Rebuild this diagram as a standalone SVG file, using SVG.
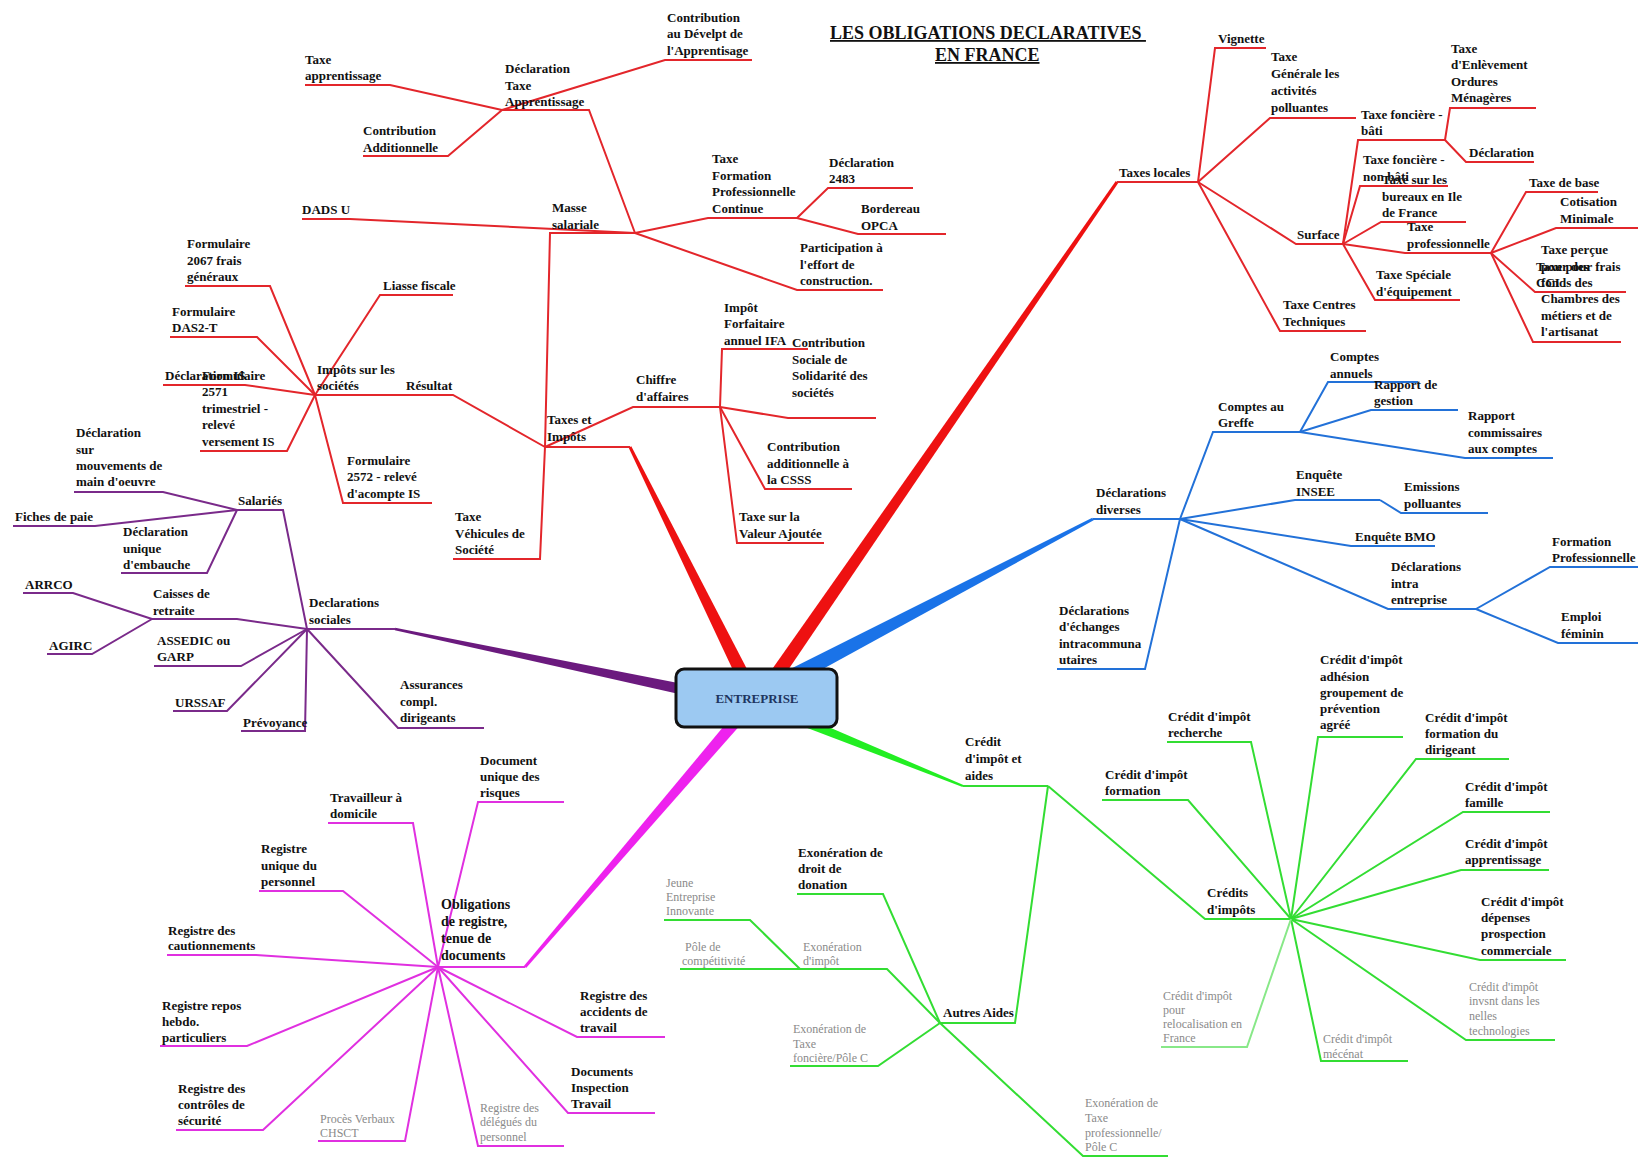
<svg xmlns="http://www.w3.org/2000/svg" width="1638" height="1158" viewBox="0 0 1638 1158">
<style>
.r{fill:none;stroke:#e3262b;stroke-width:2}
.b{fill:none;stroke:#2271d8;stroke-width:2}
.g{fill:none;stroke:#33dd33;stroke-width:2}
.gl{fill:none;stroke:#88e888;stroke-width:2}
.m{fill:none;stroke:#e030e0;stroke-width:2}
.p{fill:none;stroke:#7a2a8a;stroke-width:2}
text{font-family:"Liberation Serif","Times New Roman",serif}
.t{font-size:13px;font-weight:bold;fill:#111111}
.t14{font-size:14px;font-weight:bold;fill:#111111}
.gt{font-size:12px;fill:#8a8a8a}
.ti{font-size:18px;font-weight:bold;fill:#111111;text-decoration:underline}
</style>
<rect width="1638" height="1158" fill="#ffffff"/>
<g id="title">
<text class="ti" x="830" y="39" xml:space="preserve">LES OBLIGATIONS DECLARATIVES </text>
<text class="ti" x="935" y="61">EN FRANCE</text>
</g>
<g id="connectors">
<polygon points="631.3,446.3 628.7,447.7 743.7,693.1 756.3,686.9" fill="#ee1111"/>
<polygon points="1118.2,182.9 1115.8,181.1 760.2,686 771.8,694" fill="#ee1111"/>
<polygon points="1093.7,520.3 1092.3,517.7 786.3,670.9 793.7,685.1" fill="#1a73e8"/>
<polygon points="962.6,786.9 963.4,785.1 801.9,715.4 798.1,724.6" fill="#22ee22"/>
<polygon points="526.1,968 523.9,966 736.4,711.1 745.6,718.9" fill="#ee22ee"/>
<polygon points="394.8,630.2 395.2,627.8 701.1,687.6 698.9,698.4" fill="#6b1a7e"/>
<g id="red-links">
<polyline class="r" points="630,447 545,447"/>
<polyline class="r" points="545,447 453,395 315,395"/>
<polyline class="r" points="545,447 633,407 720,407"/>
<polyline class="r" points="545,447 550,233 635,233"/>
<polyline class="r" points="545,447 540,559 453,559"/>
<polyline class="r" points="635,233 350,219 302,219"/>
<polyline class="r" points="635,233 589,110 502,110"/>
<polyline class="r" points="635,233 708,218 797,218"/>
<polyline class="r" points="635,233 797,290 883,290"/>
<polyline class="r" points="502,110 390,85 305,85"/>
<polyline class="r" points="502,110 448,156 363,156"/>
<polyline class="r" points="502,110 665,60 752,60"/>
<polyline class="r" points="797,218 828,188 913,188"/>
<polyline class="r" points="797,218 858,234 946,234"/>
<polyline class="r" points="720,407 722,349 808,349"/>
<polyline class="r" points="720,407 788,418 876,418"/>
<polyline class="r" points="720,407 765,489 852,489"/>
<polyline class="r" points="720,407 737,543 824,543"/>
<polyline class="r" points="315,395 380,295 453,295"/>
<polyline class="r" points="315,395 270,286 185,286"/>
<polyline class="r" points="315,395 257,337 170,337"/>
<polyline class="r" points="315,395 245,385 163,385"/>
<polyline class="r" points="315,395 287,451 200,451"/>
<polyline class="r" points="315,395 343,503 432,503"/>
<polyline class="r" points="1117,182 1198,182"/>
<polyline class="r" points="1198,182 1215,48 1266,48"/>
<polyline class="r" points="1198,182 1270,118 1356,118"/>
<polyline class="r" points="1198,182 1296,244 1343,244"/>
<polyline class="r" points="1198,182 1280,331 1366,331"/>
<polyline class="r" points="1343,244 1358,140 1445,140"/>
<polyline class="r" points="1343,244 1360,186 1448,186"/>
<polyline class="r" points="1343,244 1381,222 1466,222"/>
<polyline class="r" points="1343,244 1405,253 1491,253"/>
<polyline class="r" points="1343,244 1375,300 1460,300"/>
<polyline class="r" points="1445,140 1450,108 1536,108"/>
<polyline class="r" points="1445,140 1466,162 1534,162"/>
<polyline class="r" points="1491,253 1526,192 1598,192"/>
<polyline class="r" points="1491,253 1556,228 1638,228"/>
<polyline class="r" points="1491,253 1535,292 1626,292"/>
<polyline class="r" points="1491,253 1533,342 1621,342"/>
</g>
<g id="blue-links">
<polyline class="b" points="1093,519 1180,519"/>
<polyline class="b" points="1180,519 1213,432 1300,432"/>
<polyline class="b" points="1300,432 1328,382 1418,382"/>
<polyline class="b" points="1300,432 1371,410 1458,410"/>
<polyline class="b" points="1300,432 1465,458 1553,458"/>
<polyline class="b" points="1180,519 1295,500 1380,500"/>
<polyline class="b" points="1380,500 1401,513 1488,513"/>
<polyline class="b" points="1180,519 1351,546 1435,546"/>
<polyline class="b" points="1180,519 1388,609 1476,609"/>
<polyline class="b" points="1476,609 1550,567 1638,567"/>
<polyline class="b" points="1476,609 1558,643 1638,643"/>
<polyline class="b" points="1180,519 1145,669 1057,669"/>
</g>
<g id="green-links">
<polyline class="g" points="963,786 1048,786"/>
<polyline class="g" points="1048,786 1015,1023 940,1023"/>
<polyline class="g" points="1048,786 1205,919 1291,919"/>
<polyline class="g" points="940,1023 883,894 797,894"/>
<polyline class="g" points="940,1023 887,969 800,969"/>
<polyline class="g" points="800,969 750,920 664,920"/>
<polyline class="g" points="800,969 680,969"/>
<polyline class="g" points="940,1023 878,1066 790,1066"/>
<polyline class="g" points="940,1023 1083,1156 1168,1156"/>
<polyline class="g" points="1291,919 1251,742 1167,742"/>
<polyline class="g" points="1291,919 1188,800 1102,800"/>
<polyline class="g" points="1291,919 1318,737 1403,737"/>
<polyline class="g" points="1291,919 1416,759 1509,759"/>
<polyline class="g" points="1291,919 1463,812 1550,812"/>
<polyline class="g" points="1291,919 1461,870 1549,870"/>
<polyline class="g" points="1291,919 1480,960 1566,960"/>
<polyline class="g" points="1291,919 1466,1040 1555,1040"/>
<polyline class="g" points="1291,919 1321,1061 1408,1061"/>
<polyline class="gl" points="1291,919 1247,1047 1161,1047"/>
</g>
<g id="magenta-links">
<polyline class="m" points="525,967 438,967"/>
<polyline class="m" points="438,967 478,802 564,802"/>
<polyline class="m" points="438,967 413,823 328,823"/>
<polyline class="m" points="438,967 343,891 259,891"/>
<polyline class="m" points="438,967 256,955 167,955"/>
<polyline class="m" points="438,967 247,1046 160,1046"/>
<polyline class="m" points="438,967 263,1130 176,1130"/>
<polyline class="m" points="438,967 405,1141 318,1141"/>
<polyline class="m" points="438,967 478,1146 564,1146"/>
<polyline class="m" points="438,967 568,1113 655,1113"/>
<polyline class="m" points="438,967 577,1037 665,1037"/>
</g>
<g id="purple-links">
<polyline class="p" points="395,629 307,629"/>
<polyline class="p" points="307,629 283,510 237,510"/>
<polyline class="p" points="307,629 237,619 152,619"/>
<polyline class="p" points="307,629 241,666 154,666"/>
<polyline class="p" points="307,629 227,711 173,711"/>
<polyline class="p" points="307,629 305,731 241,731"/>
<polyline class="p" points="307,629 398,728 484,728"/>
<polyline class="p" points="237,510 163,492 74,492"/>
<polyline class="p" points="237,510 95,526 13,526"/>
<polyline class="p" points="237,510 207,573 121,573"/>
<polyline class="p" points="152,619 73,593 23,593"/>
<polyline class="p" points="152,619 92,654 47,654"/>
</g>
</g>
<g id="entreprise">
<rect x="676" y="669" width="161" height="58" rx="8" fill="#9cc9f2" stroke="#111" stroke-width="3"/>
<text x="757" y="703" text-anchor="middle" style="font-size:13px;font-weight:bold;fill:#1e3560">ENTREPRISE</text>
</g>
<g id="taxes-impots"><text class="t"><tspan x="547" y="424">Taxes et</tspan><tspan x="547" y="441">Impôts</tspan></text></g>
<g id="resultat"><text class="t" x="406" y="390">Résultat</text></g>
<g id="chiffre-affaires"><text class="t"><tspan x="636" y="384">Chiffre</tspan><tspan x="636" y="401">d'affaires</tspan></text></g>
<g id="masse-salariale"><text class="t"><tspan x="552" y="212">Masse</tspan><tspan x="552" y="229">salariale</tspan></text></g>
<g id="tvs"><text class="t"><tspan x="455" y="521">Taxe</tspan><tspan x="455" y="538">Véhicules de</tspan><tspan x="455" y="554">Société</tspan></text></g>
<g id="dads"><text class="t" x="302" y="214">DADS U</text></g>
<g id="decl-ta"><text class="t"><tspan x="505" y="73">Déclaration</tspan><tspan x="505" y="90">Taxe</tspan><tspan x="505" y="106">Apprentissage</tspan></text></g>
<g id="tfpc"><text class="t"><tspan x="712" y="163">Taxe</tspan><tspan x="712" y="180">Formation</tspan><tspan x="712" y="196">Professionnelle</tspan><tspan x="712" y="213">Continue</tspan></text></g>
<g id="participation"><text class="t"><tspan x="800" y="252">Participation à</tspan><tspan x="800" y="269">l'effort de</tspan><tspan x="800" y="285">construction.</tspan></text></g>
<g id="taxe-app"><text class="t"><tspan x="305" y="64">Taxe</tspan><tspan x="305" y="80">apprentissage</tspan></text></g>
<g id="contrib-add"><text class="t"><tspan x="363" y="135">Contribution</tspan><tspan x="363" y="152">Additionnelle</tspan></text></g>
<g id="cda"><text class="t"><tspan x="667" y="22">Contribution</tspan><tspan x="667" y="38">au Dévelpt de</tspan><tspan x="667" y="55">l'Apprentisage</tspan></text></g>
<g id="decl-2483"><text class="t"><tspan x="829" y="167">Déclaration</tspan><tspan x="829" y="183">2483</tspan></text></g>
<g id="opca"><text class="t"><tspan x="861" y="213">Bordereau</tspan><tspan x="861" y="230">OPCA</tspan></text></g>
<g id="ifa"><text class="t"><tspan x="724" y="312">Impôt</tspan><tspan x="724" y="328">Forfaitaire</tspan><tspan x="724" y="345">annuel IFA</tspan></text></g>
<g id="css"><text class="t"><tspan x="792" y="347">Contribution</tspan><tspan x="792" y="364">Sociale de</tspan><tspan x="792" y="380">Solidarité des</tspan><tspan x="792" y="397">sociétés</tspan></text></g>
<g id="csss"><text class="t"><tspan x="767" y="451">Contribution</tspan><tspan x="767" y="468">additionnelle à</tspan><tspan x="767" y="484">la CSSS</tspan></text></g>
<g id="tva"><text class="t"><tspan x="739" y="521">Taxe sur la</tspan><tspan x="739" y="538">Valeur Ajoutée</tspan></text></g>
<g id="is"><text class="t"><tspan x="317" y="374">Impôts sur les</tspan><tspan x="317" y="390">sociétés</tspan></text></g>
<g id="liasse"><text class="t" x="383" y="290">Liasse fiscale</text></g>
<g id="f2067"><text class="t"><tspan x="187" y="248">Formulaire</tspan><tspan x="187" y="265">2067 frais</tspan><tspan x="187" y="281">généraux</tspan></text></g>
<g id="das2"><text class="t"><tspan x="172" y="316">Formulaire</tspan><tspan x="172" y="332">DAS2-T</tspan></text></g>
<g id="decl-is"><text class="t" x="165" y="380">Déclaration IS</text></g>
<g id="f2571"><text class="t"><tspan x="202" y="380">Formulaire</tspan><tspan x="202" y="396">2571</tspan><tspan x="202" y="413">trimestriel -</tspan><tspan x="202" y="429">relevé</tspan><tspan x="202" y="446">versement IS</tspan></text></g>
<g id="f2572"><text class="t"><tspan x="347" y="465">Formulaire</tspan><tspan x="347" y="481">2572 - relevé</tspan><tspan x="347" y="498">d'acompte IS</tspan></text></g>
<g id="taxes-locales"><text class="t" x="1119" y="177">Taxes locales</text></g>
<g id="vignette"><text class="t" x="1218" y="43">Vignette</text></g>
<g id="tgap"><text class="t"><tspan x="1271" y="61">Taxe</tspan><tspan x="1271" y="78">Générale les</tspan><tspan x="1271" y="95">activités</tspan><tspan x="1271" y="112">polluantes</tspan></text></g>
<g id="surface"><text class="t" x="1297" y="239">Surface</text></g>
<g id="tct"><text class="t"><tspan x="1283" y="309">Taxe Centres</tspan><tspan x="1283" y="326">Techniques</tspan></text></g>
<g id="tfb"><text class="t"><tspan x="1361" y="119">Taxe foncière -</tspan><tspan x="1361" y="135">bâti</tspan></text></g>
<g id="tfnb"><text class="t"><tspan x="1363" y="164">Taxe foncière -</tspan><tspan x="1363" y="181">non bâti</tspan></text></g>
<g id="tsb"><text class="t"><tspan x="1382" y="184">Taxe sur les</tspan><tspan x="1382" y="201">bureaux en Ile</tspan><tspan x="1382" y="217">de France</tspan></text></g>
<g id="tp"><text class="t"><tspan x="1407" y="231">Taxe</tspan><tspan x="1407" y="248">professionnelle</tspan></text></g>
<g id="tse"><text class="t"><tspan x="1376" y="279">Taxe Spéciale</tspan><tspan x="1376" y="296">d'équipement</tspan></text></g>
<g id="teom"><text class="t"><tspan x="1451" y="53">Taxe</tspan><tspan x="1451" y="69">d'Enlèvement</tspan><tspan x="1451" y="86">Ordures</tspan><tspan x="1451" y="102">Ménagères</tspan></text></g>
<g id="decl-tf"><text class="t" x="1469" y="157">Déclaration</text></g>
<g id="taxe-base"><text class="t" x="1529" y="187">Taxe de base</text></g>
<g id="cotisation"><text class="t"><tspan x="1560" y="206">Cotisation</tspan><tspan x="1560" y="223">Minimale</tspan></text></g>
<g id="cci"><text class="t"><tspan x="1536" y="271">Taxe pour frais</tspan><tspan x="1536" y="287">CCI</tspan></text></g>
<g id="chambres"><text class="t"><tspan x="1541" y="254">Taxe perçue</tspan><tspan x="1541" y="271">pour des</tspan><tspan x="1541" y="287">fonds des</tspan><tspan x="1541" y="303">Chambres des</tspan><tspan x="1541" y="320">métiers et de</tspan><tspan x="1541" y="336">l'artisanat</tspan></text></g>
<g id="decl-diverses"><text class="t"><tspan x="1096" y="497">Déclarations</tspan><tspan x="1096" y="514">diverses</tspan></text></g>
<g id="comptes-greffe"><text class="t"><tspan x="1218" y="411">Comptes au</tspan><tspan x="1218" y="427">Greffe</tspan></text></g>
<g id="comptes-annuels"><text class="t"><tspan x="1330" y="361">Comptes</tspan><tspan x="1330" y="378">annuels</tspan></text></g>
<g id="rapport-gestion"><text class="t"><tspan x="1374" y="389">Rapport de</tspan><tspan x="1374" y="405">gestion</tspan></text></g>
<g id="rapport-cac"><text class="t"><tspan x="1468" y="420">Rapport</tspan><tspan x="1468" y="437">commissaires</tspan><tspan x="1468" y="453">aux comptes</tspan></text></g>
<g id="insee"><text class="t"><tspan x="1296" y="479">Enquête</tspan><tspan x="1296" y="496">INSEE</tspan></text></g>
<g id="emissions"><text class="t"><tspan x="1404" y="491">Emissions</tspan><tspan x="1404" y="508">polluantes</tspan></text></g>
<g id="bmo"><text class="t" x="1355" y="541">Enquête BMO</text></g>
<g id="intra"><text class="t"><tspan x="1391" y="571">Déclarations</tspan><tspan x="1391" y="588">intra</tspan><tspan x="1391" y="604">entreprise</tspan></text></g>
<g id="formation-pro"><text class="t"><tspan x="1552" y="546">Formation</tspan><tspan x="1552" y="562">Professionnelle</tspan></text></g>
<g id="emploi"><text class="t"><tspan x="1561" y="621">Emploi</tspan><tspan x="1561" y="638">féminin</tspan></text></g>
<g id="deb"><text class="t"><tspan x="1059" y="615">Déclarations</tspan><tspan x="1059" y="631">d'échanges</tspan><tspan x="1059" y="648">intracommuna</tspan><tspan x="1059" y="664">utaires</tspan></text></g>
<g id="credit-aides"><text class="t"><tspan x="965" y="746">Crédit</tspan><tspan x="965" y="763">d'impôt et</tspan><tspan x="965" y="780">aides</tspan></text></g>
<g id="autres-aides"><text class="t" x="943" y="1017">Autres Aides</text></g>
<g id="credits-impots"><text class="t"><tspan x="1207" y="897">Crédits</tspan><tspan x="1207" y="914">d'impôts</tspan></text></g>
<g id="exo-donation"><text class="t"><tspan x="798" y="857">Exonération de</tspan><tspan x="798" y="873">droit de</tspan><tspan x="798" y="889">donation</tspan></text></g>
<g id="exo-impot"><text class="gt"><tspan x="803" y="951">Exonération</tspan><tspan x="803" y="965">d'impôt</tspan></text></g>
<g id="jei"><text class="gt"><tspan x="666" y="887">Jeune</tspan><tspan x="666" y="901">Entreprise</tspan><tspan x="666" y="915">Innovante</tspan></text></g>
<g id="pole"><text class="gt"><tspan x="685" y="951">Pôle de</tspan><tspan x="682" y="965">compétitivité</tspan></text></g>
<g id="exo-tf"><text class="gt"><tspan x="793" y="1033">Exonération de</tspan><tspan x="793" y="1048">Taxe</tspan><tspan x="793" y="1062">foncière/Pôle C</tspan></text></g>
<g id="exo-tp"><text class="gt"><tspan x="1085" y="1107">Exonération de</tspan><tspan x="1085" y="1122">Taxe</tspan><tspan x="1085" y="1137">professionnelle/</tspan><tspan x="1085" y="1151">Pôle C</tspan></text></g>
<g id="ci-recherche"><text class="t"><tspan x="1168" y="721">Crédit d'impôt</tspan><tspan x="1168" y="737">recherche</tspan></text></g>
<g id="ci-formation"><text class="t"><tspan x="1105" y="779">Crédit d'impôt</tspan><tspan x="1105" y="795">formation</tspan></text></g>
<g id="ci-adhesion"><text class="t"><tspan x="1320" y="664">Crédit d'impôt</tspan><tspan x="1320" y="681">adhésion</tspan><tspan x="1320" y="697">groupement de</tspan><tspan x="1320" y="713">prévention</tspan><tspan x="1320" y="729">agréé</tspan></text></g>
<g id="ci-dirigeant"><text class="t"><tspan x="1425" y="722">Crédit d'impôt</tspan><tspan x="1425" y="738">formation du</tspan><tspan x="1425" y="754">dirigeant</tspan></text></g>
<g id="ci-famille"><text class="t"><tspan x="1465" y="791">Crédit d'impôt</tspan><tspan x="1465" y="807">famille</tspan></text></g>
<g id="ci-apprentissage"><text class="t"><tspan x="1465" y="848">Crédit d'impôt</tspan><tspan x="1465" y="864">apprentissage</tspan></text></g>
<g id="ci-prospection"><text class="t"><tspan x="1481" y="906">Crédit d'impôt</tspan><tspan x="1481" y="922">dépenses</tspan><tspan x="1481" y="938">prospection</tspan><tspan x="1481" y="955">commerciale</tspan></text></g>
<g id="ci-techno"><text class="gt"><tspan x="1469" y="991">Crédit d'impôt</tspan><tspan x="1469" y="1005">invsnt dans les</tspan><tspan x="1469" y="1020">nelles</tspan><tspan x="1469" y="1035">technologies</tspan></text></g>
<g id="ci-mecenat"><text class="gt"><tspan x="1323" y="1043">Crédit d'impôt</tspan><tspan x="1323" y="1058">mécénat</tspan></text></g>
<g id="ci-reloc"><text class="gt"><tspan x="1163" y="1000">Crédit d'impôt</tspan><tspan x="1163" y="1014">pour</tspan><tspan x="1163" y="1028">relocalisation en</tspan><tspan x="1163" y="1042">France</tspan></text></g>
<g id="obligations"><text class="t14"><tspan x="441" y="909">Obligations</tspan><tspan x="441" y="926">de registre,</tspan><tspan x="441" y="943">tenue de</tspan><tspan x="441" y="960">documents</tspan></text></g>
<g id="doc-unique"><text class="t"><tspan x="480" y="765">Document</tspan><tspan x="480" y="781">unique des</tspan><tspan x="480" y="797">risques</tspan></text></g>
<g id="travailleur"><text class="t"><tspan x="330" y="802">Travailleur à</tspan><tspan x="330" y="818">domicile</tspan></text></g>
<g id="rup"><text class="t"><tspan x="261" y="853">Registre</tspan><tspan x="261" y="870">unique du</tspan><tspan x="261" y="886">personnel</tspan></text></g>
<g id="cautionnements"><text class="t"><tspan x="168" y="935">Registre des</tspan><tspan x="168" y="950">cautionnements</tspan></text></g>
<g id="repos"><text class="t"><tspan x="162" y="1010">Registre repos</tspan><tspan x="162" y="1026">hebdo.</tspan><tspan x="162" y="1042">particuliers</tspan></text></g>
<g id="controles"><text class="t"><tspan x="178" y="1093">Registre des</tspan><tspan x="178" y="1109">contrôles de</tspan><tspan x="178" y="1125">sécurité</tspan></text></g>
<g id="chsct"><text class="gt"><tspan x="320" y="1123">Procès Verbaux</tspan><tspan x="320" y="1137">CHSCT</tspan></text></g>
<g id="delegues"><text class="gt"><tspan x="480" y="1112">Registre des</tspan><tspan x="480" y="1126">délégués du</tspan><tspan x="480" y="1141">personnel</tspan></text></g>
<g id="inspection"><text class="t"><tspan x="571" y="1076">Documents</tspan><tspan x="571" y="1092">Inspection</tspan><tspan x="571" y="1108">Travail</tspan></text></g>
<g id="accidents"><text class="t"><tspan x="580" y="1000">Registre des</tspan><tspan x="580" y="1016">accidents de</tspan><tspan x="580" y="1032">travail</tspan></text></g>
<g id="decl-sociales"><text class="t"><tspan x="309" y="607">Declarations</tspan><tspan x="309" y="624">sociales</tspan></text></g>
<g id="salaries"><text class="t" x="238" y="505">Salariés</text></g>
<g id="caisses"><text class="t"><tspan x="153" y="598">Caisses de</tspan><tspan x="153" y="615">retraite</tspan></text></g>
<g id="assedic"><text class="t"><tspan x="157" y="645">ASSEDIC ou</tspan><tspan x="157" y="661">GARP</tspan></text></g>
<g id="urssaf"><text class="t" x="175" y="707">URSSAF</text></g>
<g id="prevoyance"><text class="t" x="243" y="727">Prévoyance</text></g>
<g id="assurances"><text class="t"><tspan x="400" y="689">Assurances</tspan><tspan x="400" y="706">compl.</tspan><tspan x="400" y="722">dirigeants</tspan></text></g>
<g id="dmmo"><text class="t"><tspan x="76" y="437">Déclaration</tspan><tspan x="76" y="454">sur</tspan><tspan x="76" y="470">mouvements de</tspan><tspan x="76" y="486">main d'oeuvre</tspan></text></g>
<g id="fiches"><text class="t" x="15" y="521">Fiches de paie</text></g>
<g id="due"><text class="t"><tspan x="123" y="536">Déclaration</tspan><tspan x="123" y="553">unique</tspan><tspan x="123" y="569">d'embauche</tspan></text></g>
<g id="arrco"><text class="t" x="25" y="589">ARRCO</text></g>
<g id="agirc"><text class="t" x="49" y="650">AGIRC</text></g>
</svg>
